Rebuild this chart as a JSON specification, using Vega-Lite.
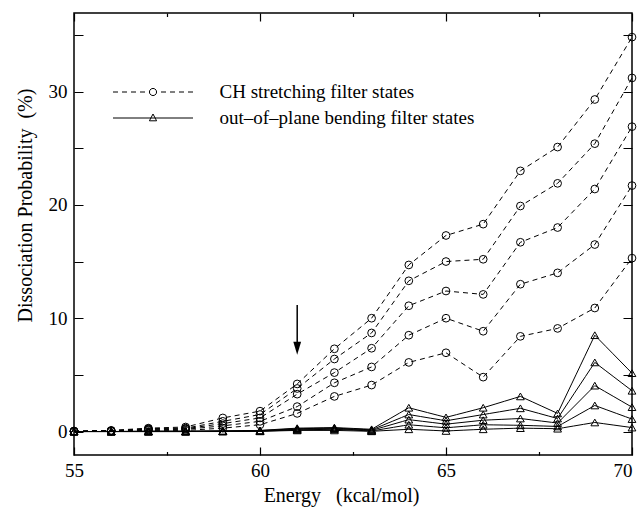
{
"$schema": "https://vega.github.io/schema/vega-lite/v6.json",
"width": 558, "height": 442,
"autosize": {"type": "none"},
"padding": {"left": 74, "top": 13, "right": 10, "bottom": 61},
"background": "white",
"config": {"view": {"stroke": "black", "strokeWidth": 1.5}, "font": "Liberation Serif",
 "axis": {"domain": false, "grid": false, "ticks": false, "gridColor": "black", "gridWidth": 1.2, "gridOpacity": 1, "labelFlush": false}},
"datasets": {
"curves": [
{"e":55,"p":0.05,"s":"C1","t":"CH"},{"e":56,"p":0.1,"s":"C1","t":"CH"},{"e":57,"p":0.3,"s":"C1","t":"CH"},{"e":58,"p":0.4,"s":"C1","t":"CH"},{"e":59,"p":1.2,"s":"C1","t":"CH"},{"e":60,"p":1.8,"s":"C1","t":"CH"},{"e":61,"p":4.2,"s":"C1","t":"CH"},{"e":62,"p":7.3,"s":"C1","t":"CH"},{"e":63,"p":10.0,"s":"C1","t":"CH"},{"e":64,"p":14.7,"s":"C1","t":"CH"},{"e":65,"p":17.3,"s":"C1","t":"CH"},{"e":66,"p":18.3,"s":"C1","t":"CH"},{"e":67,"p":23.0,"s":"C1","t":"CH"},{"e":68,"p":25.1,"s":"C1","t":"CH"},{"e":69,"p":29.3,"s":"C1","t":"CH"},{"e":70,"p":34.8,"s":"C1","t":"CH"},
{"e":55,"p":0.03,"s":"C2","t":"CH"},{"e":56,"p":0.08,"s":"C2","t":"CH"},{"e":57,"p":0.25,"s":"C2","t":"CH"},{"e":58,"p":0.3,"s":"C2","t":"CH"},{"e":59,"p":0.9,"s":"C2","t":"CH"},{"e":60,"p":1.5,"s":"C2","t":"CH"},{"e":61,"p":3.8,"s":"C2","t":"CH"},{"e":62,"p":6.4,"s":"C2","t":"CH"},{"e":63,"p":8.7,"s":"C2","t":"CH"},{"e":64,"p":13.3,"s":"C2","t":"CH"},{"e":65,"p":15.0,"s":"C2","t":"CH"},{"e":66,"p":15.2,"s":"C2","t":"CH"},{"e":67,"p":19.9,"s":"C2","t":"CH"},{"e":68,"p":21.9,"s":"C2","t":"CH"},{"e":69,"p":25.4,"s":"C2","t":"CH"},{"e":70,"p":31.2,"s":"C2","t":"CH"},
{"e":55,"p":0.02,"s":"C3","t":"CH"},{"e":56,"p":0.06,"s":"C3","t":"CH"},{"e":57,"p":0.2,"s":"C3","t":"CH"},{"e":58,"p":0.25,"s":"C3","t":"CH"},{"e":59,"p":0.7,"s":"C3","t":"CH"},{"e":60,"p":1.2,"s":"C3","t":"CH"},{"e":61,"p":3.3,"s":"C3","t":"CH"},{"e":62,"p":5.2,"s":"C3","t":"CH"},{"e":63,"p":7.35,"s":"C3","t":"CH"},{"e":64,"p":11.1,"s":"C3","t":"CH"},{"e":65,"p":12.4,"s":"C3","t":"CH"},{"e":66,"p":12.1,"s":"C3","t":"CH"},{"e":67,"p":16.7,"s":"C3","t":"CH"},{"e":68,"p":18.0,"s":"C3","t":"CH"},{"e":69,"p":21.4,"s":"C3","t":"CH"},{"e":70,"p":26.9,"s":"C3","t":"CH"},
{"e":55,"p":0.01,"s":"C4","t":"CH"},{"e":56,"p":0.04,"s":"C4","t":"CH"},{"e":57,"p":0.15,"s":"C4","t":"CH"},{"e":58,"p":0.2,"s":"C4","t":"CH"},{"e":59,"p":0.5,"s":"C4","t":"CH"},{"e":60,"p":0.9,"s":"C4","t":"CH"},{"e":61,"p":2.2,"s":"C4","t":"CH"},{"e":62,"p":4.3,"s":"C4","t":"CH"},{"e":63,"p":5.7,"s":"C4","t":"CH"},{"e":64,"p":8.5,"s":"C4","t":"CH"},{"e":65,"p":10.0,"s":"C4","t":"CH"},{"e":66,"p":8.85,"s":"C4","t":"CH"},{"e":67,"p":13.0,"s":"C4","t":"CH"},{"e":68,"p":14.0,"s":"C4","t":"CH"},{"e":69,"p":16.5,"s":"C4","t":"CH"},{"e":70,"p":21.7,"s":"C4","t":"CH"},
{"e":55,"p":0,"s":"C5","t":"CH"},{"e":56,"p":0.02,"s":"C5","t":"CH"},{"e":57,"p":0.1,"s":"C5","t":"CH"},{"e":58,"p":0.1,"s":"C5","t":"CH"},{"e":59,"p":0.3,"s":"C5","t":"CH"},{"e":60,"p":0.6,"s":"C5","t":"CH"},{"e":61,"p":1.6,"s":"C5","t":"CH"},{"e":62,"p":3.1,"s":"C5","t":"CH"},{"e":63,"p":4.1,"s":"C5","t":"CH"},{"e":64,"p":6.1,"s":"C5","t":"CH"},{"e":65,"p":6.95,"s":"C5","t":"CH"},{"e":66,"p":4.8,"s":"C5","t":"CH"},{"e":67,"p":8.4,"s":"C5","t":"CH"},{"e":68,"p":9.1,"s":"C5","t":"CH"},{"e":69,"p":10.9,"s":"C5","t":"CH"},{"e":70,"p":15.3,"s":"C5","t":"CH"},
{"e":55,"p":0,"s":"B1","t":"OOP"},{"e":56,"p":0,"s":"B1","t":"OOP"},{"e":57,"p":0.05,"s":"B1","t":"OOP"},{"e":58,"p":0.05,"s":"B1","t":"OOP"},{"e":59,"p":0.05,"s":"B1","t":"OOP"},{"e":60,"p":0.1,"s":"B1","t":"OOP"},{"e":61,"p":0.3,"s":"B1","t":"OOP"},{"e":62,"p":0.35,"s":"B1","t":"OOP"},{"e":63,"p":0.2,"s":"B1","t":"OOP"},{"e":64,"p":2.1,"s":"B1","t":"OOP"},{"e":65,"p":1.25,"s":"B1","t":"OOP"},{"e":66,"p":2.1,"s":"B1","t":"OOP"},{"e":67,"p":3.1,"s":"B1","t":"OOP"},{"e":68,"p":1.6,"s":"B1","t":"OOP"},{"e":69,"p":8.5,"s":"B1","t":"OOP"},{"e":70,"p":5.15,"s":"B1","t":"OOP"},
{"e":55,"p":0,"s":"B2","t":"OOP"},{"e":56,"p":0,"s":"B2","t":"OOP"},{"e":57,"p":0,"s":"B2","t":"OOP"},{"e":58,"p":0,"s":"B2","t":"OOP"},{"e":59,"p":0.05,"s":"B2","t":"OOP"},{"e":60,"p":0.08,"s":"B2","t":"OOP"},{"e":61,"p":0.25,"s":"B2","t":"OOP"},{"e":62,"p":0.3,"s":"B2","t":"OOP"},{"e":63,"p":0.15,"s":"B2","t":"OOP"},{"e":64,"p":1.5,"s":"B2","t":"OOP"},{"e":65,"p":0.95,"s":"B2","t":"OOP"},{"e":66,"p":1.5,"s":"B2","t":"OOP"},{"e":67,"p":2.05,"s":"B2","t":"OOP"},{"e":68,"p":1.15,"s":"B2","t":"OOP"},{"e":69,"p":6.1,"s":"B2","t":"OOP"},{"e":70,"p":3.6,"s":"B2","t":"OOP"},
{"e":55,"p":0,"s":"B3","t":"OOP"},{"e":56,"p":0,"s":"B3","t":"OOP"},{"e":57,"p":0,"s":"B3","t":"OOP"},{"e":58,"p":0,"s":"B3","t":"OOP"},{"e":59,"p":0.03,"s":"B3","t":"OOP"},{"e":60,"p":0.05,"s":"B3","t":"OOP"},{"e":61,"p":0.2,"s":"B3","t":"OOP"},{"e":62,"p":0.25,"s":"B3","t":"OOP"},{"e":63,"p":0.1,"s":"B3","t":"OOP"},{"e":64,"p":1.05,"s":"B3","t":"OOP"},{"e":65,"p":0.65,"s":"B3","t":"OOP"},{"e":66,"p":1.0,"s":"B3","t":"OOP"},{"e":67,"p":1.15,"s":"B3","t":"OOP"},{"e":68,"p":0.75,"s":"B3","t":"OOP"},{"e":69,"p":4.05,"s":"B3","t":"OOP"},{"e":70,"p":2.15,"s":"B3","t":"OOP"},
{"e":55,"p":0,"s":"B4","t":"OOP"},{"e":56,"p":0,"s":"B4","t":"OOP"},{"e":57,"p":0,"s":"B4","t":"OOP"},{"e":58,"p":0,"s":"B4","t":"OOP"},{"e":59,"p":0.02,"s":"B4","t":"OOP"},{"e":60,"p":0.03,"s":"B4","t":"OOP"},{"e":61,"p":0.15,"s":"B4","t":"OOP"},{"e":62,"p":0.2,"s":"B4","t":"OOP"},{"e":63,"p":0.05,"s":"B4","t":"OOP"},{"e":64,"p":0.6,"s":"B4","t":"OOP"},{"e":65,"p":0.33,"s":"B4","t":"OOP"},{"e":66,"p":0.6,"s":"B4","t":"OOP"},{"e":67,"p":0.55,"s":"B4","t":"OOP"},{"e":68,"p":0.45,"s":"B4","t":"OOP"},{"e":69,"p":2.3,"s":"B4","t":"OOP"},{"e":70,"p":1.1,"s":"B4","t":"OOP"},
{"e":55,"p":0,"s":"B5","t":"OOP"},{"e":56,"p":0,"s":"B5","t":"OOP"},{"e":57,"p":0,"s":"B5","t":"OOP"},{"e":58,"p":0,"s":"B5","t":"OOP"},{"e":59,"p":0,"s":"B5","t":"OOP"},{"e":60,"p":0.02,"s":"B5","t":"OOP"},{"e":61,"p":0.1,"s":"B5","t":"OOP"},{"e":62,"p":0.1,"s":"B5","t":"OOP"},{"e":63,"p":0.02,"s":"B5","t":"OOP"},{"e":64,"p":0.2,"s":"B5","t":"OOP"},{"e":65,"p":0.05,"s":"B5","t":"OOP"},{"e":66,"p":0.2,"s":"B5","t":"OOP"},{"e":67,"p":0.3,"s":"B5","t":"OOP"},{"e":68,"p":0.25,"s":"B5","t":"OOP"},{"e":69,"p":0.8,"s":"B5","t":"OOP"},{"e":70,"p":0.35,"s":"B5","t":"OOP"}
],
"arrow": [{"e": 61, "top": 11.16, "head": 7.34}]
},
"layer": [
{
"data": {"name": "curves"},
"mark": {"type": "line", "stroke": "black", "strokeWidth": 1},
"encoding": {
"x": {"field": "e", "type": "quantitative", "scale": {"domain": [55, 70], "nice": false, "zero": false},
 "axis": {"orient": "bottom", "values": [55, 60, 65, 70], "format": "d",
  "labelAlign": {"condition": {"test": "datum.value === 70", "value": "right"}, "value": "center"},
  "grid": true, "gridDash": [8, 426, 8, 1000],
  "labelFont": "Liberation Serif", "labelFontSize": 19, "labelColor": "black", "labelPadding": 6,
  "title": "Energy\u00a0\u00a0\u00a0(kcal/mol)", "titleFont": "Liberation Serif", "titleFontSize": 20, "titleFontWeight": "normal", "titleColor": "black",
  "titleX": 267, "titleY": 46, "titleBaseline": "alphabetic"}},
"y": {"field": "p", "type": "quantitative", "scale": {"domain": [-2.07, 36.93], "nice": false, "zero": false},
 "axis": {"orient": "left", "values": [0, 5, 10, 15, 20, 25, 30, 35], "labelExpr": "datum.value % 10 === 0 ? datum.label : ''",
  "grid": true, "gridDash": [9, 540, 9, 1000],
  "labelFont": "Liberation Serif", "labelFontSize": 19, "labelColor": "black", "labelPadding": 7,
  "title": "Dissociation Probability\u00a0\u00a0(%)", "titleFont": "Liberation Serif", "titleFontSize": 20, "titleFontWeight": "normal", "titleColor": "black",
  "titleX": -49, "titleY": 192, "titleBaseline": "middle", "titleAngle": -90}},
"detail": {"field": "s"},
"strokeDash": {"field": "s", "type": "nominal", "scale": {"domain": ["C1","C2","C3","C4","C5","B1","B2","B3","B4","B5"], "range": [[5, 4],[5, 4],[5, 4],[5, 4],[5, 4],[10, 0],[10, 0],[10, 0],[10, 0],[10, 0]]}, "legend": null}
}
},
{
"data": {"name": "curves"},
"transform": [{"filter": "datum.t === 'CH'"}],
"mark": {"type": "point", "shape": "circle", "filled": false, "strokeWidth": 1, "size": 60, "color": "black"},
"encoding": {
"x": {"field": "e", "type": "quantitative", "scale": {"domain": [55, 70], "nice": false, "zero": false},
 "axis": {"orient": "bottom", "values": [57.5, 62.5, 67.5], "labels": false, "grid": true, "gridDash": [3.5, 435, 3.5, 1000], "title": null}},
"y": {"field": "p", "type": "quantitative", "scale": {"domain": [-2.07, 36.93], "nice": false, "zero": false}, "axis": null},
"opacity": {"field": "s", "type": "nominal", "scale": {"domain": ["C1", "C2", "C3", "C4", "C5"], "range": [1, 1, 1, 1, 1]},
 "legend": {"orient": "none", "legendX": 38.5, "legendY": 69.5, "title": null, "padding": 0, "values": ["C1"],
  "labelExpr": "'CH stretching filter states'",
  "labelFont": "Liberation Serif", "labelFontSize": 19, "labelColor": "black", "labelLimit": 500,
  "symbolType": "M-1,0H-0.875M-0.775,0H-0.65M-0.55,0H-0.425M-0.325,0H-0.2M0.09,0L0.078,0.045L0.045,0.078L0,0.09L-0.045,0.078L-0.078,0.045L-0.09,0L-0.078,-0.045L-0.045,-0.078L0,-0.09L0.045,-0.078L0.078,-0.045ZM0.2,0H0.325M0.425,0H0.55M0.65,0H0.775M0.875,0H1",
  "symbolSize": 6400, "symbolStrokeColor": "black", "symbolFillColor": "transparent", "symbolStrokeWidth": 1, "symbolOpacity": 1,
  "clipHeight": 19, "labelOffset": 26}}
}
},
{
"data": {"name": "curves"},
"transform": [{"filter": "datum.t === 'OOP'"}],
"mark": {"type": "point", "shape": "triangle-up", "filled": false, "strokeWidth": 1, "size": 60, "color": "black"},
"encoding": {
"x": {"field": "e", "type": "quantitative", "scale": {"domain": [55, 70], "nice": false, "zero": false}, "axis": null},
"y": {"field": "p", "type": "quantitative", "scale": {"domain": [-2.07, 36.93], "nice": false, "zero": false}, "axis": null},
"opacity": {"field": "t", "type": "nominal", "scale": {"domain": ["OOP"], "range": [1]},
 "legend": {"orient": "none", "legendX": 38.5, "legendY": 95.5, "title": null, "padding": 0,
  "labelExpr": "'out\u2013of\u2013plane bending filter states'",
  "labelFont": "Liberation Serif", "labelFontSize": 19, "labelColor": "black", "labelLimit": 500,
  "symbolType": "M-1,0H1M0,-0.1L0.09,0.07L-0.09,0.07Z",
  "symbolSize": 6400, "symbolStrokeColor": "black", "symbolFillColor": "transparent", "symbolStrokeWidth": 1, "symbolOpacity": 1,
  "clipHeight": 19, "labelOffset": 26}}
}
},
{
"data": {"name": "arrow"},
"mark": {"type": "rule", "stroke": "black", "strokeWidth": 1.5},
"encoding": {
"x": {"field": "e", "type": "quantitative", "scale": {"domain": [55, 70], "nice": false, "zero": false}, "axis": null},
"y": {"field": "top", "type": "quantitative", "scale": {"domain": [-2.07, 36.93], "nice": false, "zero": false}, "axis": null},
"y2": {"field": "head"}
}
},
{
"data": {"name": "arrow"},
"mark": {"type": "point", "shape": "M-0.6,-1L0.6,-1L0,1Z", "filled": true, "fill": "black", "size": 169, "opacity": 1},
"encoding": {
"x": {"field": "e", "type": "quantitative", "scale": {"domain": [55, 70], "nice": false, "zero": false}, "axis": null},
"y": {"field": "head", "type": "quantitative", "scale": {"domain": [-2.07, 36.93], "nice": false, "zero": false}, "axis": null}
}
}
],
"resolve": {"axis": {"x": "independent", "y": "independent"}, "scale": {"opacity": "independent"}, "legend": {"opacity": "independent"}}
}
